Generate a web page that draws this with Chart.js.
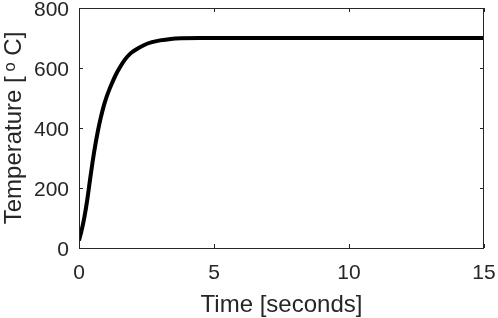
<!DOCTYPE html>
<html>
<head>
<meta charset="utf-8">
<script src="https://cdn.jsdelivr.net/npm/chart.js@4"></script>
<style>
  html, body { margin: 0; padding: 0; background: #fff; }
  #wrap { width: 498px; height: 318px; }
</style>
</head>
<body>
<div id="wrap"><canvas id="grafico" width="498" height="318"></canvas></div>
<script>
// dados
const tempo = [0, 0.1, 0.2, 0.3, 0.4, 0.5, 0.6, 0.7, 0.8, 0.9, 1.0, 1.1, 1.2, 1.35, 1.5, 1.7, 1.9, 2.1, 2.4, 2.7, 3.0, 3.4, 3.8, 4.5, 5, 6, 8, 10, 12, 15];
const temperatura = [25, 60, 103, 157, 222, 285, 341, 390, 432, 468, 498, 523, 545, 575, 600, 628, 648, 661, 676, 686, 692, 697, 699, 700, 700, 700, 700, 700, 700, 700];
const ticksX = [0, 5, 10, 15];
const ticksY = [0, 200, 400, 600, 800];

const corEixo = '#262626';
const fonte = 'Liberation Sans, Arial, sans-serif';

// caixa e marcas para dentro, estilo matlab
const caixa = {
    id: 'caixa',
    afterDraw(chart) {
        const { ctx, chartArea: a, scales } = chart;
        ctx.save();
        ctx.strokeStyle = corEixo;
        ctx.lineWidth = 1;
        ctx.strokeRect(a.left + 0.5, a.top + 0.5, a.right - a.left - 1, a.bottom - a.top);
        ctx.beginPath();
        ticksX.forEach(v => {
            const x = Math.round(scales.x.getPixelForValue(v)) + 0.5;
            ctx.moveTo(x, a.bottom); ctx.lineTo(x, a.bottom - 4);
            ctx.moveTo(x, a.top); ctx.lineTo(x, a.top + 4);
        });
        ticksY.forEach(v => {
            const y = Math.round(scales.y.getPixelForValue(v)) + 0.5;
            ctx.moveTo(a.left, y); ctx.lineTo(a.left + 4, y);
            ctx.moveTo(a.right, y); ctx.lineTo(a.right - 4, y);
        });
        ctx.stroke();
        ctx.restore();
    }
};

const ctx = document.getElementById('grafico').getContext('2d');
new Chart(ctx, {
    type: 'line',
    data: {
        datasets: [{
            data: tempo.map((t, i) => ({ x: t, y: temperatura[i] })),
            borderColor: '#000',
            borderWidth: 4,
            pointRadius: 0,
            cubicInterpolationMode: 'monotone',
            fill: false
        }]
    },
    options: {
        responsive: false,
        animation: false,
        layout: { padding: { top: 8, right: 14, left: 0, bottom: 0 } },
        plugins: { legend: { display: false }, tooltip: { enabled: false } },
        scales: {
            x: {
                type: 'linear',
                min: 0, max: 15,
                afterFit: s => { s.height = 70; s.paddingLeft = 0; s.paddingRight = 0; },
                afterBuildTicks: s => { s.ticks = ticksX.map(v => ({ value: v })); },
                grid: { display: false, drawTicks: false },
                border: { display: false },
                ticks: { color: corEixo, font: { family: fonte, size: 21 }, padding: 13, maxRotation: 0 },
                title: { display: true, text: 'Time [seconds]', color: corEixo, font: { family: fonte, size: 24 }, padding: { top: 0, bottom: -2 } }
            },
            y: {
                min: 0, max: 800,
                afterFit: s => { s.width = 79; s.paddingTop = 0; s.paddingBottom = 0; },
                afterBuildTicks: s => { s.ticks = ticksY.map(v => ({ value: v })); },
                grid: { display: false, drawTicks: false },
                border: { display: false },
                ticks: { color: corEixo, font: { family: fonte, size: 21 }, padding: 10, labelOffset: 2 },
                title: { display: true, text: 'Temperature [\u2009ᵒ C]', color: corEixo, font: { family: fonte, size: 24 }, padding: { top: 0, bottom: 0 } }
            }
        }
    },
    plugins: [caixa]
});
</script>
</body>
</html>
